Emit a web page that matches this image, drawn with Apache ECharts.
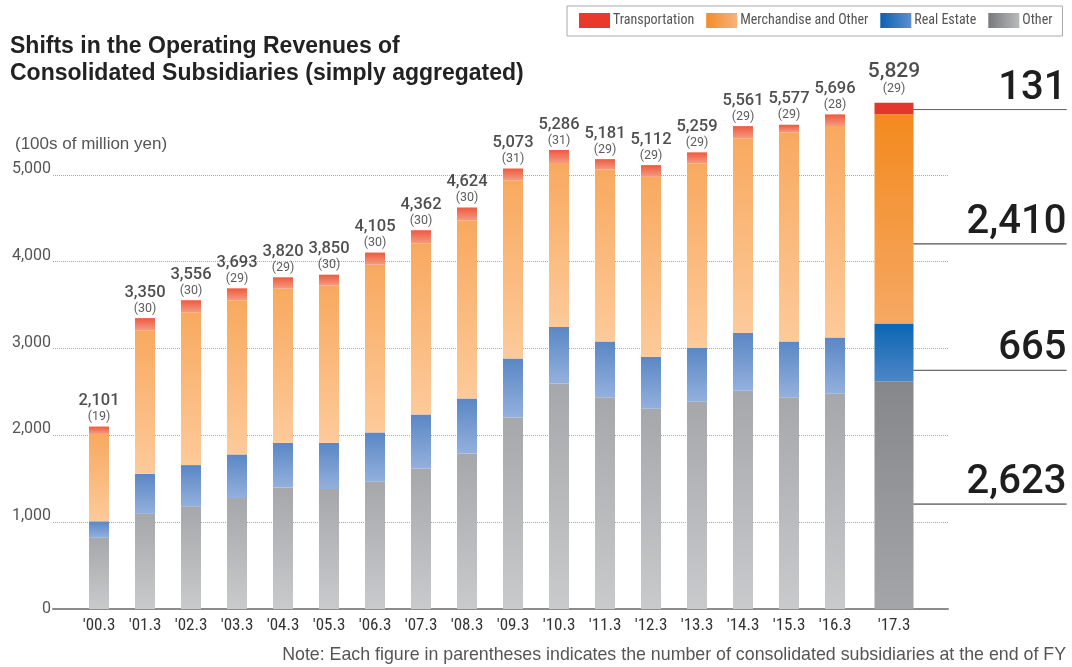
<!DOCTYPE html>
<html><head><meta charset="utf-8">
<script src="https://cdn.jsdelivr.net/npm/echarts@6/dist/echarts.min.js"></script>
<style>html,body{margin:0;padding:0;background:#fff}#c{width:1072px;height:667px}</style>
</head><body><div id="c"></div>
<script>
// ---- data (100s of million yen) ----
const categories = ["'00.3","'01.3","'02.3","'03.3","'04.3","'05.3","'06.3","'07.3","'08.3","'09.3","'10.3","'11.3","'12.3","'13.3","'14.3","'15.3","'16.3","'17.3"];
const other      = [820,1095,1177,1277,1400,1381,1465,1619,1792,2206,2597,2440,2305,2386,2513,2440,2478,2623];
const realEstate = [190,462,480,503,514,533,568,621,633,679,652,640,599,621,667,640,648,665];
const merchandise= [1006,1653,1761,1776,1776,1811,1932,1972,2049,2053,1887,1981,2073,2127,2241,2407,2435,2410];
const transport  = [85,140,138,137,130,125,140,150,150,135,150,120,135,125,140,90,135,131];
const totals     = [2101,3350,3556,3693,3820,3850,4105,4362,4624,5073,5286,5181,5112,5259,5561,5577,5696,5829];
const counts     = [19,30,30,29,29,30,30,30,30,31,31,29,29,29,29,29,28,29];
const yTicks     = [0,1000,2000,3000,4000,5000];

const chart = echarts.init(document.getElementById('c'));
const N = categories.length - 1;
const LG = (a,b,h) => new echarts.graphic.LinearGradient(0,0,h?1:0,h?0:1,[{offset:0,color:a},{offset:1,color:b}]);
const comma = v => String(v).replace(/\B(?=(\d{3})+(?!\d))/g, ',');
const NARROW = "'Liberation Sans Narrow', 'Roboto Condensed', Roboto, sans-serif";

const xLabel = {color:'#333', fontSize:17, fontFamily:NARROW, margin:8};
const hidden = {show:false};

function barA(name, data, color) {
  return {type:'bar', name, data:data.slice(0,N), xAxisIndex:1, yAxisIndex:1, stack:'a',
    barWidth:20, itemStyle:{color}, emphasis:{disabled:true}};
}
function barB(name, data, color, off) {
  return {type:'bar', name, data:data.slice(N), xAxisIndex:2, yAxisIndex:2, stack:'b',
    barWidth:39, itemStyle:{color}, emphasis:{disabled:true},
    label:{show:true, position:['100%','50%'], align:'left', verticalAlign:'bottom', offset:[0,off],
      formatter: p => '{n|' + comma(p.value) + '}\n{u|}',
      rich:{
        n:{fontSize:40, fontFamily:'Roboto', fontWeight:500, color:'#1e1e1e', width:153, align:'right', lineHeight:42},
        u:{width:153, height:0, borderColor:'#6a6a6a', borderWidth:1}
      }}};
}
function totalLabel(xi, big) {
  return {type:'scatter', data: xi===1 ? totals.slice(0,N) : totals.slice(N), xAxisIndex:xi, yAxisIndex:xi,
    symbol:'circle', symbolSize:1, itemStyle:{color:'rgba(0,0,0,0)'}, silent:true, z:5,
    label:{show:true, position:'top', distance: big?6:2,
      formatter: p => '{t|' + comma(p.value) + '}\n{c|(' + counts[xi===1?p.dataIndex:N] + ')}',
      rich:{
        t:{fontSize: big?21:16.5, fontFamily:'Roboto', fontWeight:500, color:'#222', lineHeight: big?22:18, align:'center'},
        c:{fontSize:12.5, fontFamily:'Roboto', color:'#333', lineHeight:14, align:'center'}
      }}};
}

chart.setOption({
  animation:false,
  backgroundColor:'#fff',
  title:{text:'Shifts in the Operating Revenues of\nConsolidated Subsidiaries (simply aggregated)',
    left:10, top:33, padding:0,
    textStyle:{fontFamily:'Liberation Sans, Arial, sans-serif', fontWeight:'bold', fontSize:23, color:'#222', lineHeight:27}},
  legend:{left:567, top:6, width:505, padding:[7,10,8,12], itemWidth:31, itemHeight:15, itemGap:12, icon:'rect',
    borderColor:'#aaa', borderWidth:1, selectedMode:false,
    textStyle:{fontFamily:NARROW, fontSize:14, color:'#555', padding:[0,0,0,-2]},
    data:[
      {name:'Transportation', itemStyle:{color:'#e8392c'}},
      {name:'Merchandise and Other', itemStyle:{color:LG('#f38c28','#f8b27a',true)}},
      {name:'Real Estate', itemStyle:{color:LG('#0d61b2','#5d8fcf',true)}},
      {name:'Other', itemStyle:{color:LG('#78797d','#b9babc',true)}}
    ]},
  graphic:[
    {type:'text', left:15, top:136, style:{text:'(100s of million yen)', fill:'#555', font:'17px "Liberation Sans", Arial, sans-serif'}},
    {type:'text', right:6, top:646, style:{text:'Note: Each figure in parentheses indicates the number of consolidated subsidiaries at the end of FY', fill:'#555', font:'17.8px "Liberation Sans", Arial, sans-serif'}}
  ],
  grid:[
    {left:53, top:88, width:895, bottom:58},
    {left:76, top:88, width:782, bottom:58},
    {left:857, top:88, width:74, bottom:58}
  ],
  xAxis:[
    {gridIndex:0, type:'value', min:0, max:1, axisLine:{show:true, lineStyle:{color:'#8c8c8c', width:2}},
      axisTick:hidden, axisLabel:hidden, splitLine:hidden},
    {gridIndex:1, type:'category', data:categories.slice(0,N), axisLine:hidden, axisTick:hidden, axisLabel:xLabel},
    {gridIndex:2, type:'category', data:categories.slice(N), axisLine:hidden, axisTick:hidden, axisLabel:xLabel}
  ],
  yAxis:[
    {gridIndex:0, type:'value', min:0, max:6000, interval:1000, axisLine:hidden, axisTick:hidden,
      axisLabel:{margin:2, verticalAlign:'middle',
        formatter: v => yTicks.indexOf(v) < 0 ? '' : (v === 0 ? '{z|0}' : '{n|' + comma(v) + '}'),
        rich:{n:{fontSize:16, fontFamily:'Roboto', color:'#555', padding:[0,0,12,0]},
              z:{fontSize:16, fontFamily:'Roboto', color:'#555'}}},
      splitLine:{show:true, showMinLine:false, showMaxLine:false, lineStyle:{type:'dotted', color:'#a8a8a8', width:1}}},
    {gridIndex:1, type:'value', min:0, max:6000, interval:1000, show:false},
    {gridIndex:2, type:'value', min:0, max:6000, interval:1000, show:false}
  ],
  series:[
    barA('Other', other, LG('#a6a7aa','#c9cacc')),
    barA('Real Estate', realEstate, LG('#5a87c5','#93b0dd')),
    barA('Merchandise and Other', merchandise, LG('#f8a95f','#fdca9a')),
    barA('Transportation', transport, LG('#ee5a3f','#f59a80')),
    barB('Other', other, LG('#86878b','#a4a5a8'), 9),
    barB('Real Estate', realEstate, LG('#0a66b4','#4d86c6'), 18),
    barB('Merchandise and Other', merchandise, LG('#f38a1e','#f6a862'), 25),
    barB('Transportation', transport, '#e1382b', 1),
    totalLabel(1, false),
    totalLabel(2, true)
  ]
});
</script></body></html>
